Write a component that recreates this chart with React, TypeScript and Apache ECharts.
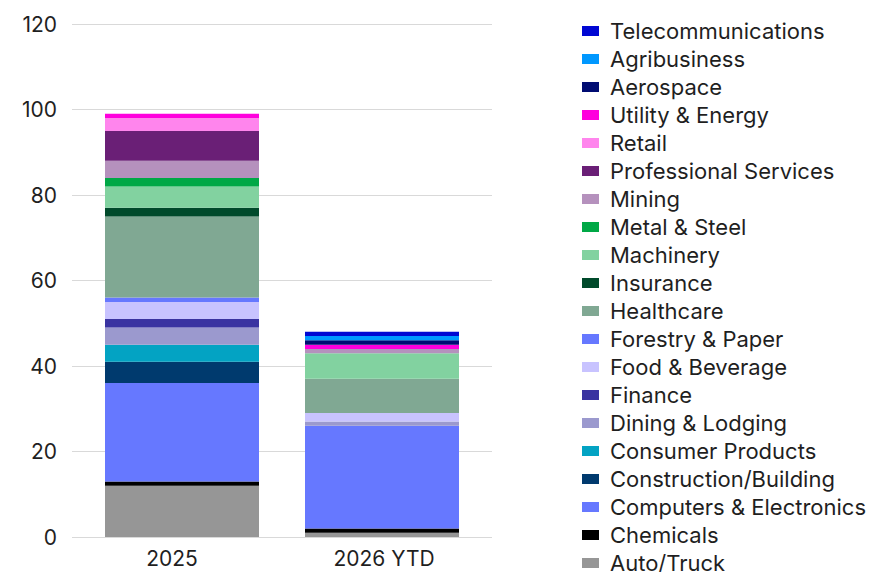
import React, { useEffect, useRef } from "react";
import * as echarts from "echarts";

const categories = ["2025", "2026 YTD"];
const yTicks = [0, 20, 40, 60, 80, 100, 120];

// Stack order bottom -> top
const seriesNames = [
  "Auto/Truck",
  "Chemicals",
  "Computers & Electronics",
  "Construction/Building",
  "Consumer Products",
  "Dining & Lodging",
  "Finance",
  "Food & Beverage",
  "Forestry & Paper",
  "Healthcare",
  "Insurance",
  "Machinery",
  "Metal & Steel",
  "Mining",
  "Professional Services",
  "Retail",
  "Utility & Energy",
  "Aerospace",
  "Agribusiness",
  "Telecommunications",
];

const autoTruck = [12, 1];
const chemicals = [1, 1];
const computers = [23, 24];
const construction = [5, 0];
const consumer = [4, 0];
const dining = [4, 1];
const finance = [2, 0];
const food = [4, 2];
const forestry = [1, 0];
const healthcare = [19, 8];
const insurance = [2, 0];
const machinery = [5, 6];
const metal = [2, 0];
const mining = [4, 1];
const professional = [7, 0];
const retail = [3, 0];
const utility = [1, 1];
const aerospace = [0, 1];
const agribusiness = [0, 1];
const telecom = [0, 1];

const seriesValues = [
  autoTruck, chemicals, computers, construction, consumer, dining, finance,
  food, forestry, healthcare, insurance, machinery, metal, mining,
  professional, retail, utility, aerospace, agribusiness, telecom,
];

const colors = [
  "#969696", "#000000", "#6678FF", "#003A6E", "#03A3C3", "#9B99CE", "#3A33A1",
  "#C8C3FF", "#6678FF", "#80A893", "#004A2B", "#82D2A0", "#00A846", "#B591BD",
  "#6A1F76", "#FF85ED", "#FF00DD", "#000C72", "#0098FF", "#0007D3",
];

const FONT = "Inter, 'Noto Sans', sans-serif";
const TEXT = "#1f1f1f";

export default function App() {
  const ref = useRef<HTMLDivElement>(null);
  useEffect(() => {
    if (!ref.current) return;
    const chart = echarts.init(ref.current, null, { renderer: "svg" });
    chart.setOption({
      animation: false,
      textStyle: { fontFamily: FONT },
      grid: [
        { left: 72, right: 386, top: 24, bottom: 35 },
        { left: 82, right: 396, top: 24, bottom: 35 },
      ],
      xAxis: [
        {
          type: "category",
          gridIndex: 0,
          data: ["", ""],
          axisLine: { show: false },
          axisTick: { show: false },
          axisLabel: { show: false },
        },
        {
          type: "category",
          gridIndex: 1,
          data: [
            { value: categories[0], textStyle: { padding: [0, 20, 0, 0] } },
            { value: categories[1], textStyle: { padding: [0, 0, 0, 4] } },
          ],
          axisLine: { show: false },
          axisTick: { show: false },
          axisLabel: { color: TEXT, fontSize: 21, fontFamily: FONT, margin: 11 },
        },
      ],
      yAxis: [
        {
          type: "value",
          gridIndex: 0,
          min: yTicks[0],
          max: yTicks[yTicks.length - 1],
          interval: 20,
          axisLine: { show: false },
          axisTick: { show: false },
          axisLabel: { color: TEXT, fontSize: 21, fontFamily: FONT, margin: 15 },
          splitLine: { lineStyle: { color: "#d9d9d9", width: 1 } },
        },
        {
          type: "value",
          gridIndex: 1,
          min: 0,
          max: 120,
          interval: 20,
          show: false,
          splitLine: { show: false },
        },
      ],
      legend: {
        orient: "vertical",
        left: 582,
        top: 20,
        height: 570,
        padding: 0,
        itemWidth: 17,
        itemHeight: 10,
        itemGap: 6,
        icon: "rect",
        data: [...seriesNames].reverse(),
        textStyle: {
          color: TEXT,
          fontSize: 22,
          fontFamily: FONT,
          lineHeight: 22,
          padding: [0, 0, 0, 6],
        },
      },
      series: seriesNames.map((name, i) => ({
        name,
        type: "bar",
        stack: "total",
        xAxisIndex: 1,
        yAxisIndex: 1,
        barWidth: 154,
        itemStyle: { color: colors[i] },
        data: seriesValues[i],
      })),
    });
    return () => chart.dispose();
  }, []);
  return (
    <div
      ref={ref}
      style={{ position: "fixed", left: 0, top: 0, width: 878, height: 572, background: "#fff" }}
    />
  );
}
